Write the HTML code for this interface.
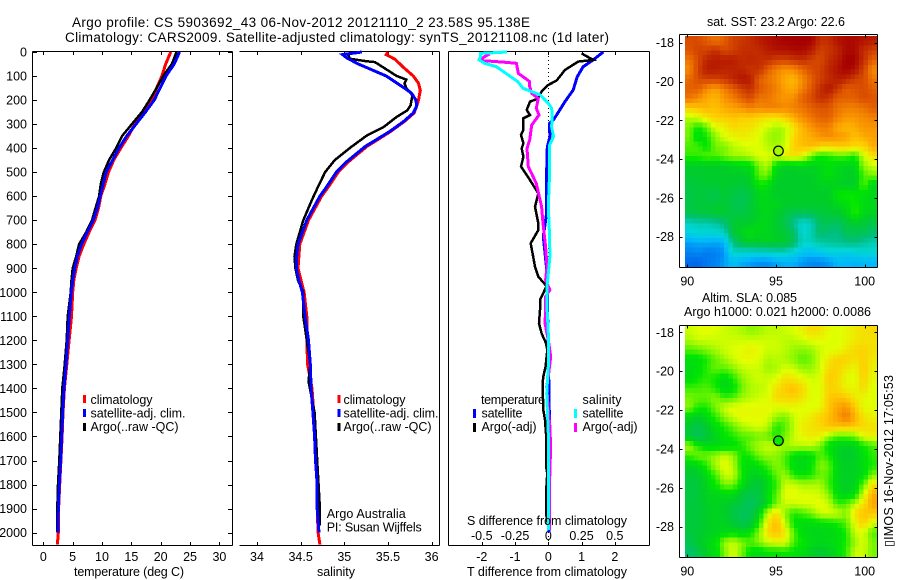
<!DOCTYPE html>
<html lang="en">
<head>
<meta charset="utf-8">
<title>Argo profile</title>
<style>
html,body{margin:0;padding:0;background:#fff;}
svg{display:block;font-family:"Liberation Sans",Arial,sans-serif;font-size:12.5px;fill:#000;}
</style>
</head>
<body>
<svg id="chart" xmlns="http://www.w3.org/2000/svg" width="900" height="580" viewBox="0 0 900 580">
<rect width="900" height="580" fill="#fff"/>
<g id="layer"></g>
<g font-size="13.5">
<text x="72" y="27" textLength="458">Argo profile: CS 5903692_43 06-Nov-2012 20121110_2 23.58S 95.138E</text>
<text x="65" y="42" textLength="544">Climatology: CARS2009. Satellite-adjusted climatology: synTS_20121108.nc (1d later)</text>
</g>
<g>
<text x="74" y="576" textLength="110">temperature (deg C)</text>
<text x="317" y="576" textLength="38">salinity</text>
<text x="467" y="576" textLength="160">T difference from climatology</text>
<text x="467" y="525" textLength="160">S difference from climatology</text>
</g>
<g>
<rect x="83" y="395" width="3" height="8" fill="#f00"/>
<text x="90.500" y="404" textLength="62">climatology</text>
<rect x="83" y="409" width="3" height="8" fill="#00f"/>
<text x="90.500" y="417.500" textLength="95">satellite-adj. clim.</text>
<rect x="83" y="423" width="3" height="8" fill="#000"/>
<text x="90.500" y="431" textLength="88">Argo(..raw -QC)</text>
</g>
<g>
<rect x="337.500" y="395" width="3" height="8" fill="#f00"/>
<text x="343.500" y="404" textLength="62">climatology</text>
<rect x="337.500" y="409" width="3" height="8" fill="#00f"/>
<text x="343.500" y="417.500" textLength="95">satellite-adj. clim.</text>
<rect x="337.500" y="423" width="3" height="8" fill="#000"/>
<text x="343.500" y="431" textLength="88">Argo(..raw -QC)</text>
<text x="326.700" y="518" textLength="79">Argo Australia</text>
<text x="326.700" y="531.500" textLength="95">PI: Susan Wijffels</text>
</g>
<g>
<text x="481" y="404" textLength="64">temperature</text>
<rect x="473" y="409" width="3" height="9" fill="#00f"/>
<text x="481.500" y="417.500" textLength="41">satellite</text>
<rect x="473" y="423" width="3" height="9" fill="#000"/>
<text x="481.500" y="431" textLength="55">Argo(-adj)</text>
<text x="582.500" y="404" textLength="39">salinity</text>
<rect x="574" y="409" width="3" height="9" fill="#0ff"/>
<text x="582.500" y="417.500" textLength="41">satellite</text>
<rect x="574" y="423" width="3" height="9" fill="#f0f"/>
<text x="582.500" y="431" textLength="55">Argo(-adj)</text>
</g>
<g>
<text x="707" y="26" textLength="138">sat. SST: 23.2 Argo: 22.6</text>
<text x="702" y="302" textLength="95">Altim. SLA: 0.085</text>
<text x="684" y="316" textLength="187">Argo h1000: 0.021 h2000: 0.0086</text>
</g>
<text transform="translate(893 547) rotate(-90)" textLength="172">▯IMOS 16-Nov-2012 17:05:53</text>
</svg>
<script>
// ---------- depth profile data ----------
const depthTicks = [0,100,200,300,400,500,600,700,800,900,1000,1100,1200,1300,1400,1500,1600,1700,1800,1900,2000];
const tempTicks = [0,5,10,15,20,25,30];
const salTicks = [34,34.5,35,35.5,36];
const salTickLabels = ['34','34.5','35','35.5','36'];
const tDiffTicks = [-2,-1,0,1,2];
const sDiffTicks = [-0.5,-0.25,0,0.25,0.5];
const sDiffTickLabels = ['-0.5','-0.25','0','0.25','0.5'];

const tempDepths = [0,50,100,150,200,250,300,350,400,450,500,550,600,650,700,750,800,850,900,950,1000,1100,1200,1300,1400,1500,1600,1700,1800,1900,2000];
const tempClimDepths = [0,50,100,150,200,250,300,350,400,450,500,550,600,650,700,750,800,850,900,950,1000,1100,1200,1300,1400,1500,1600,1700,1800,1900,2000,2050];
const tempClim = [21.7,20.85,20.2,19.3,18.5,17.2,15.6,14.5,13.2,12.0,11.1,10.5,9.8,9.4,8.8,7.8,6.9,6.1,5.6,5.2,5.0,4.8,4.4,4.0,3.6,3.35,3.2,3.0,2.8,2.6,2.55,2.4];
const tempArgo = [22.7,21.9,20.45,19.3,18.1,16.8,15.1,13.4,12.4,11.2,10.3,9.8,9.5,8.9,8.3,7.3,6.1,5.6,5.0,4.8,4.66,4.15,3.98,3.64,3.24,3.07,2.9,2.73,2.5,2.39,2.39];
const tempSat = [23.2,22.3,20.9,19.9,18.9,17.4,15.8,14.2,12.9,11.8,10.7,10.2,9.7,9.2,8.5,7.5,6.5,5.8,5.35,5.0,4.77,4.43,4.15,3.87,3.53,3.3,3.13,2.96,2.73,2.56,2.5];

const salClimDepths = [0,11,30,65,100,130,160,200,224,254,289,331,393,462,500,560,600,700,800,900,1000,1100,1200,1300,1400,1500,1600,1700,1800,1900,2000,2050];
const salClim = [35.5,35.48,35.58,35.68,35.79,35.85,35.87,35.85,35.83,35.8,35.69,35.53,35.26,35.03,34.93,34.82,34.74,34.59,34.49,34.47,34.54,34.57,34.57,34.58,34.63,34.65,34.66,34.68,34.69,34.69,34.7,34.72];
const salArgoDepths = [5,15,28,38,42,65,100,115,130,150,180,222,243,270,312,347,395,450,500,560,615,700,800,850,900,950,1000,1100,1200,1300,1370,1500,1700,1900,1970];
const salArgo = [35.03,35.05,35.06,35.24,35.35,35.45,35.6,35.71,35.69,35.71,35.78,35.76,35.72,35.6,35.45,35.26,35.08,34.89,34.78,34.7,34.63,34.53,34.45,34.43,34.44,34.47,34.53,34.53,34.57,34.61,34.59,34.66,34.69,34.72,34.72];
const salSatDepths = [0,11,25,50,67,100,143,171,200,224,254,289,331,393,462,500,560,600,700,800,865,900,950,1000,1100,1200,1300,1400,1500,1600,1700,1800,1900,2000];
const salSat = [35.2,34.98,35.03,35.16,35.27,35.48,35.66,35.77,35.82,35.83,35.79,35.68,35.52,35.24,35.01,34.91,34.8,34.72,34.57,34.47,34.45,34.45,34.48,34.52,34.55,34.59,34.61,34.62,34.64,34.66,34.67,34.69,34.69,34.71];

const tDiffSatDepths = [0,33,61,103,158,207,262,283,297,352,394,505,671,768,900,1000,1500,2000];
const tDiffSat = [1.65,1.35,1.05,0.87,0.75,0.5,0.25,0.15,0.03,0.05,-0.03,-0.05,-0.05,-0.15,-0.05,-0.03,0.03,0.02];
const tDiffArgoDepths = [6,33,40,75,119,137,165,193,207,241,262,276,325,345,380,401,436,477,533,588,644,713,741,796,893,935,974,1018,1032,1074,1129,1171,1212,1240,1309,1351,1379,1490,1531,1587,1725,1753,1836,1920,1975];
const tDiffArgo = [1.0,1.35,0.9,0.5,0.25,0,-0.2,-0.3,-0.55,-0.65,-0.55,-0.75,-0.75,-0.82,-0.75,-0.8,-0.75,-0.82,-0.55,-0.3,-0.4,-0.3,-0.3,-0.53,-0.4,-0.3,-0.05,-0.2,-0.25,-0.25,-0.28,-0.2,-0.07,-0.03,-0.08,-0.15,-0.17,-0.15,-0.1,-0.07,-0.07,-0.03,-0.07,-0.07,0];
const sDiffArgoDepths = [8,26,36,42,47,89,123,144,172,193,234,262,304,366,401,477,547,644,713,810,893,949,990,1018,1074,1129,1198,1268,1351,1393,1490,1559,1656,1725,1864,1989];
const sDiffArgo = [-0.44,-0.5,-0.49,-0.34,-0.24,-0.225,-0.14,-0.14,-0.125,-0.075,-0.09,-0.07,-0.125,-0.14,-0.16,-0.15,-0.09,-0.05,-0.04,-0.02,-0.01,-0.02,0.012,-0.02,-0.02,-0.025,0,0.018,0,-0.012,0,0.012,0.018,0.012,0.008,0.008];
const sDiffSatDepths = [0,6,19,33,47,61,96,123,151,165,179,214,234,269,311,352,387,505,644,768,852,977,1060,1171,1309,1420,1587,1725,1933,1989];
const sDiffSat = [-0.31,-0.51,-0.51,-0.52,-0.48,-0.39,-0.3,-0.23,-0.19,-0.125,-0.06,0,0.025,0.03,0.025,0.04,0.01,0.01,0,0.01,0.012,-0.01,-0.01,0,0,-0.012,0,0,0,0];

// ---------- map data ----------
const mapLonTicks = [90,95,100];
const mapLatTicks = [-18,-20,-22,-24,-26,-28];
const profileLon = 95.138;
const profileLat = -23.58;
const profileSst = 23.2;
const profileSla = 2.1;

// sea surface temperature (deg C), rows north to south
const sstGrid = [
[25.2,25.2,25,24.8,25,25.3,25.4,25.5,25.7,25.8,25.9,26,26,26,26,25.5,25.5,25.8,25.9,25.9,25.8,25.7],
[25.1,25.3,25.3,25.5,25.2,25.3,25.5,25.5,25.5,25.7,25.8,25.8,25.9,25.9,25.7,25.3,25.4,25.6,25.9,25.9,25.5,25.3],
[24.8,25.2,25.6,25.7,25.7,25.7,25.5,25.6,25.5,25.5,25.3,25.3,25.4,25.5,25.3,25.2,25.5,25.7,26,26,25.5,25],
[24.6,25.3,25.7,25.7,25.6,25.6,25.6,25.4,25.5,25,24.7,24.5,24.6,24.9,25.2,25.3,25.6,25.8,26,25.8,25.3,24.6],
[24.9,25.2,25.3,25.3,25.4,25.6,25.8,25.7,25,24.8,24.6,24.3,24.2,24.6,25,25.3,25.5,25.7,25.6,25.3,25.2,24.8],
[25,25,24.6,24.4,24.7,25,25.3,25.5,25.1,24.9,24.7,24.4,24.3,24.7,25.1,25.5,25.8,25.4,25,25.1,25.2,25],
[24.8,24.6,24.3,24.2,24.5,24.7,25,25.2,24.8,24.8,24.6,24.5,24.6,25,25.2,25.5,25.4,25,25,25,25.2,25.1],
[24,24.1,24.2,24.1,24.3,24.4,24.5,24.7,24.6,24.7,24.7,24.6,24.7,24.8,25,25.1,25.1,24.8,24.7,24.7,24.8,25],
[23.3,23.5,23.8,24,24,24.1,24,24,23.9,23.8,23.8,24,24.3,24.6,24.8,25,25,24.7,24.5,24.5,24.6,24.7],
[23,22.5,22.9,23.5,23.6,23.9,23.8,23.8,23.6,23.4,23.2,23.3,23.8,24.2,24.5,24.7,24.7,24.3,24.2,24.3,24.5,24.5],
[23,22.2,22.6,23.1,23.5,23.6,23.7,23.6,23.5,23.2,23.1,23.3,23.9,24.2,24.3,24.5,24.6,24.5,24.4,24.1,24.3,24.4],
[22.8,22.8,22.4,23,23,23.3,23.4,23.5,23.5,23.3,23.2,23.4,24,24.1,24.2,24,23.9,24,24,23.9,23.9,24.3],
[22.7,22.7,22.9,22.8,23,23.2,23.2,23.3,23.5,23.5,23.4,23.7,23.8,23.6,22.9,22.5,22.6,22.8,22.8,22.5,23.4,23.8],
[22,22,22,22,22,22.1,22.2,22.3,23,23.3,22.3,22.1,22.1,22.2,22.1,22.2,22.4,22.2,22.1,22.2,23.1,23.4],
[21.9,21.9,22,22,22,22,22,22.1,22.9,23,22.1,22,22,22,22,22.2,22.4,22.2,22.1,22,22.8,23],
[21.7,21.8,21.9,21.9,22,21.9,21.8,22,22.5,22.4,22,22,22,22,22,22.1,22.1,22.1,22,22,22.9,22.2],
[21.6,21.8,21.7,21.5,21.9,21.7,21.5,21.7,22.2,22.2,22,22,22,22,22,22,22,22.5,22.6,22.5,22.3,22.2],
[21.7,21.8,21.8,21.9,21.9,21.6,21.5,21.8,22.2,22.2,22.2,22,22,22,22,22,22,22.2,22.3,22.6,22.3,22.2],
[21.5,21.7,21.8,21.9,21.9,21.7,21.7,21.8,22.1,22.2,22,21.7,21.4,21.4,21.5,21.7,21.8,21.9,22.1,22.7,22.2,22.1],
[20.2,20.4,20.4,20.6,21,21.9,22,22,22.2,22.2,21.9,21.6,20.8,20,20.3,21.4,21.5,21.3,21.7,22,21.8,21.6],
[19.8,20,20,20,20.2,21.8,22.1,22.4,22.2,22.2,22,21.9,21.3,20,20.4,21.3,21,20.9,21.5,21.5,21.5,21.2],
[18.6,18.8,18.8,18.7,18.9,21,21.8,22,22,22.1,22,22,21.4,20.2,20.3,20.6,20.7,20.8,20.9,21,20.7,20.4],
[18.2,18.3,18.1,18.2,18.4,20.2,20,20,20.1,20.1,20.3,20.2,19.8,19.4,19.2,19.5,19.8,19.8,19.7,19.8,20,20],
[17.9,17.8,18.1,18.2,18.6,19.2,18.8,18.6,18.4,18.4,18.7,18.9,18.9,18.5,18.3,18.3,18.5,19,19,18.9,19,19]
];

// sea level anomaly (cm), rows north to south
const slaGrid = [
[13,14,15,14,13,12,11,9,10,12,12,13,14,16,19,18,15,14,15,17,18,19],
[11,13,13,13,13,13,13,13,13,13,13,12,12,13,15,15,14,14,15,17,18,18],
[6,7,9,11,13,14,15,16,15,13,13,12,10,9,10,13,14,14,17,19,20,18],
[0,0,3,7,10,13,15,15,14,11,12,11,9,6,8,13,17,20,20,18,20,17],
[-1,0,4,7,6,9,12,13,13,10,11,14,13,10,10,13,19,20,17,15,21,16],
[-1,2,4,2,-1,3,9,12,13,13,14,18,17,15,13,14,21,19,15,14,20,15],
[5,5,6,3,-2,0,7,11,12,13,18,21,22,19,14,14,20,19,16,15,19,14],
[8,7,7,9,5,6,10,12,13,14,19,19,20,18,14,14,21,22,21,17,15,14],
[9,3,3,8,13,15,15,15,15,15,14,15,15,14,14,15,21,25,27,21,15,14],
[-2,-4,-1,4,9,13,15,15,15,14,10,8,13,15,17,20,22,26,30,24,18,16],
[-6,-10,-5,0,3,7,11,13,14,12,3,6,12,17,18,19,22,22,22,21,19,18],
[-7,-12,-7,-3,1,3,6,6,8,7,3,8,13,15,17,16,10,6,6,8,15,16],
[11,3,-1,-1,-1,0,3,8,11,13,12,10,12,12,12,8,0,-3,-4,-3,2,5],
[5,8,8,10,13,10,2,3,8,10,9,6,0,-1,0,6,3,-3,-5,-4,0,4],
[-3,-1,4,11,15,12,1,-1,1,5,9,6,-1,-2,1,9,7,-2,-4,-3,-1,3],
[-6,-6,0,5,13,13,3,-3,-3,1,7,10,3,1,3,7,6,-2,-4,-3,-1,8],
[-8,-7,-2,2,8,8,0,-5,-7,-2,4,13,13,11,11,11,5,-2,-4,-3,7,18],
[-8,-7,-3,-2,-1,-1,-6,-10,-8,0,6,15,15,14,14,13,9,-1,-3,0,13,24],
[-8,-7,-4,-3,-4,-6,-9,-13,-9,-1,8,13,13,14,14,15,13,5,6,12,18,25],
[-7,-7,-4,-3,-4,-9,-12,-11,-2,13,19,9,3,5,8,13,14,13,9,18,22,21],
[-7,-7,-4,-3,-3,-6,-10,-8,3,17,23,13,1,-1,-1,0,1,3,6,15,20,14],
[-8,-6,-4,-3,-2,0,-2,1,9,19,22,17,6,-1,-2,-2,-2,-1,3,13,14,6],
[-10,-6,-2,0,10,13,9,6,9,13,15,15,5,2,-1,-2,-1,0,3,10,14,8],
[-15,-10,-3,-1,8,14,8,0,-1,1,1,2,1,-1,-4,-6,-4,-1,4,13,13,8]
];

// ---------- scales ----------
const NS = 'http://www.w3.org/2000/svg';
const layer = document.getElementById('layer');
function yDepth(d){ return 52 + 0.2403 * d; }
function xTemp(t){ return 43.3 + 5.87 * t; }
function xSal(s){ return 257 + 87.3 * (s - 34); }
function xTDiff(t){ return 548.3 + 33.25 * t; }
function xSDiff(s){ return 548.3 + 133 * s; }
function xLon(lon){ return 687.3 + 17.74 * (lon - 90); }
function ySst(lat){ return 42.7 + 19.4 * (-18 - lat); }
function ySla(lat){ return 332.3 + 19.44 * (-18 - lat); }

function make(tag, attrs){
  const el = document.createElementNS(NS, tag);
  for (const k in attrs) el.setAttribute(k, attrs[k]);
  layer.appendChild(el);
  return el;
}
function rule(x1, y1, x2, y2){
  return make('line', {x1:x1, y1:y1, x2:x2, y2:y2, stroke:'#000', 'stroke-width':1, 'shape-rendering':'crispEdges'});
}
function label(x, y, str, anchor){
  const t = make('text', {x:x, y:y, 'text-anchor':anchor});
  t.textContent = str;
  return t;
}
function trace(xs, ds, xFn, color, width){
  const pts = xs.map(function(v, i){ return xFn(v).toFixed(1) + ',' + yDepth(ds[i]).toFixed(1); }).join(' ');
  return make('polyline', {points:pts, fill:'none', stroke:color, 'stroke-width':width, 'stroke-linejoin':'miter', 'shape-rendering':'crispEdges'});
}

// ---------- profile panel frames ----------
const frames = [
  {name:'temperature-panel', l:32.5, r:232.5, left:true},
  {name:'salinity-panel', l:239.5, r:439.5, left:false},
  {name:'difference-panel', l:448.5, r:649.5, left:true}
];
const top_ = 51.5, bot = 545.5;
frames.forEach(function(f){
  const t = rule(f.l, top_, f.r, top_);
  
  
  const b = rule(f.l, bot, f.r, bot);
  
  
  const rr = rule(f.r, top_, f.r, bot);
  
  
  if (f.left) {
    const ll = rule(f.l, top_, f.l, bot);
    
    
  }
});

// depth ticks
depthTicks.forEach(function(d){
  const y = Math.round(yDepth(d)) + 0.5;
  const a = rule(32.5, y, 37, y);
  
  
  const b = rule(228, y, 232.5, y);
  
  
  const t = label(27, yDepth(d) + 4.5, String(d), 'end');
  
  
});

function xTicks(values, texts, xFn, baseline, name){
  values.forEach(function(v, i){
    const x = Math.round(xFn(v)) + 0.5;
    const a = rule(x, top_, x, top_ + 3.5);
    
    
    const b = rule(x, bot - 3.5, x, bot);
    
    
    const t = label(xFn(v), baseline, texts[i], 'middle');
    
    
  });
}
xTicks(tempTicks, tempTicks.map(String), xTemp, 561, 'temperature');
xTicks(salTicks, salTickLabels, xSal, 561, 'salinity');
xTicks(tDiffTicks, tDiffTicks.map(String), xTDiff, 561, 't-difference');
sDiffTicks.forEach(function(v, i){
  const t = label(xSDiff(v), 540, sDiffTickLabels[i], 'middle');
  
  
});

// zero reference line
const zeroLine = make('line', {x1:xTDiff(0), y1:52, x2:xTDiff(0), y2:545, stroke:'#000', 'stroke-width':1, 'stroke-dasharray':'1 3', 'shape-rendering':'crispEdges'});



// ---------- series ----------
let s;
s = trace(tempClim, tempClimDepths, xTemp, '#f00', 3);


s = trace(tempArgo, tempDepths, xTemp, '#000', 2.5);


s = trace(tempSat, tempDepths, xTemp, '#00f', 3);



s = trace(salClim, salClimDepths, xSal, '#f00', 3);


s = trace(salArgo, salArgoDepths, xSal, '#000', 2.5);


s = trace(salSat, salSatDepths, xSal, '#00f', 3);



s = trace(tDiffSat, tDiffSatDepths, xTDiff, '#00f', 3);


s = trace(tDiffArgo, tDiffArgoDepths, xTDiff, '#000', 2.5);


s = trace(sDiffArgo, sDiffArgoDepths, xSDiff, '#f0f', 3);


s = trace(sDiffSat, sDiffSatDepths, xSDiff, '#0ff', 3);



// ---------- colour scale ----------
const colorStops = [
  [17,0,50,200],[18,0,115,240],[19,0,185,250],[20,0,215,215],[21,0,190,125],
  [22,0,205,40],[22.5,0,230,0],[23,120,245,0],[23.5,225,255,0],[24,255,205,0],
  [24.5,250,150,0],[25,228,95,0],[25.5,195,45,0],[26,165,0,0]
];
function colorFor(v){
  if (v <= colorStops[0][0]) v = colorStops[0][0];
  for (let i = 1; i < colorStops.length; i++) {
    const a = colorStops[i - 1], b = colorStops[i];
    if (v <= b[0]) {
      const f = (v - a[0]) / (b[0] - a[0]);
      return 'rgb(' + [1,2,3].map(function(k){ return Math.round(a[k] + f * (b[k] - a[k])); }).join(',') + ')';
    }
  }
  return 'rgb(165,0,0)';
}
function slaLevel(cm){ return 23 + (cm - 8) / 12.5; }

// ---------- maps ----------
const lonStart = 89.87, latStart = -17.65, lonSpan = 10.8, latSpan = 11.9;
const subCells = 2;
function sampleGrid(grid, r, c){
  const rows = grid.length, cols = grid[0].length;
  const rr = Math.max(0, Math.min(rows - 1, r)), cc = Math.max(0, Math.min(cols - 1, c));
  const r0 = Math.floor(rr), c0 = Math.floor(cc);
  const r1 = Math.min(rows - 1, r0 + 1), c1 = Math.min(cols - 1, c0 + 1);
  const fr = rr - r0, fc = cc - c0;
  return (grid[r0][c0] * (1 - fc) + grid[r0][c1] * fc) * (1 - fr) + (grid[r1][c0] * (1 - fc) + grid[r1][c1] * fc) * fr;
}
function drawMap(grid, yLat, toLevel, name){
  const rows = grid.length * subCells, cols = grid[0].length * subCells;
  const dLon = lonSpan / cols, dLat = latSpan / rows;
  for (let r = 0; r < rows; r++) {
    for (let c = 0; c < cols; c++) {
      const v = sampleGrid(grid, (r + 0.5) / subCells - 0.5, (c + 0.5) / subCells - 0.5);
      const x0 = xLon(lonStart + c * dLon), x1 = xLon(lonStart + (c + 1) * dLon);
      const y0 = yLat(latStart - r * dLat), y1 = yLat(latStart - (r + 1) * dLat);
      const cell = make('rect', {x:x0.toFixed(2), y:y0.toFixed(2), width:(x1 - x0 + 0.3).toFixed(2), height:(y1 - y0 + 0.3).toFixed(2), fill:colorFor(toLevel(v)), 'shape-rendering':'crispEdges'});
      
      
    }
  }
}
function drawMapAxes(yLat, top, bottom, name){
  const l = 679.5, r = 877.5;
  [[l,top,r,top,'top'],[l,bottom,r,bottom,'bottom'],[l,top,l,bottom,'left'],[r,top,r,bottom,'right']].forEach(function(p){
    const sp = rule(p[0], p[1], p[2], p[3]);
    
    
  });
  mapLatTicks.forEach(function(lat){
    const y = Math.round(yLat(lat)) + 0.5;
    const a = rule(l, y, l + 3, y);
    
    
    const b = rule(r - 3, y, r, y);
    
    
    const t = label(674, yLat(lat) + 4.5, String(lat), 'end');
    
    
  });
  mapLonTicks.forEach(function(lon){
    const x = Math.round(xLon(lon)) + 0.5;
    const a = rule(x, top, x, top + 3);
    
    
    const b = rule(x, bottom - 3, x, bottom);
    
    
    const t = label(xLon(lon), bottom + 18, String(lon), 'middle');
    
    
  });
}
function drawMarker(yLat, level, name){
  const m = make('circle', {cx:xLon(profileLon), cy:yLat(profileLat), r:4.8, fill:colorFor(level), stroke:'#000', 'stroke-width':1.2});
  
  
}
drawMap(sstGrid, ySst, function(v){ return v; }, 'sst-map');
drawMapAxes(ySst, 34.5, 267.5, 'sst-map');
drawMarker(ySst, profileSst, 'sst-map');
drawMap(slaGrid, ySla, slaLevel, 'sla-map');
drawMapAxes(ySla, 325.5, 557.5, 'sla-map');
drawMarker(ySla, slaLevel(profileSla), 'sla-map');
</script>
</body>
</html>
